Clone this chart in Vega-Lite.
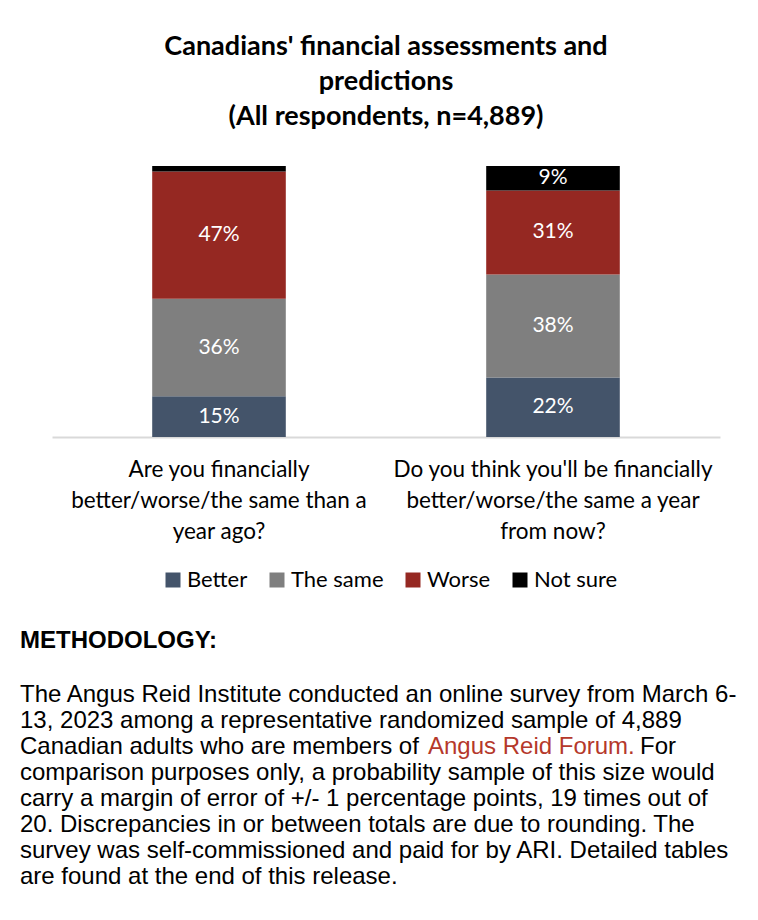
{
  "$schema": "https://vega.github.io/schema/vega-lite/v6.json",
  "background": "white",
  "padding": {"left": 20, "top": 33, "right": 6, "bottom": 5},
  "spacing": 86,
  "config": {"view": {"stroke": null}, "font": "Lato"},
  "datasets": {
    "bars": [
      {"question": "Are you financially better/worse/the same than a year ago?", "response": "Better", "rank": 1, "pct": 15},
      {"question": "Are you financially better/worse/the same than a year ago?", "response": "The same", "rank": 2, "pct": 36},
      {"question": "Are you financially better/worse/the same than a year ago?", "response": "Worse", "rank": 3, "pct": 47},
      {"question": "Are you financially better/worse/the same than a year ago?", "response": "Not sure", "rank": 4, "pct": 2},
      {"question": "Do you think you'll be financially better/worse/the same a year from now?", "response": "Better", "rank": 1, "pct": 22},
      {"question": "Do you think you'll be financially better/worse/the same a year from now?", "response": "The same", "rank": 2, "pct": 38},
      {"question": "Do you think you'll be financially better/worse/the same a year from now?", "response": "Worse", "rank": 3, "pct": 31},
      {"question": "Do you think you'll be financially better/worse/the same a year from now?", "response": "Not sure", "rank": 4, "pct": 9}
    ],
    "para": [
      {"line": 1, "part": "main", "text": "The Angus Reid Institute conducted an online survey from March 6-"},
      {"line": 2, "part": "main", "text": "13, 2023 among a representative randomized sample of 4,889"},
      {"line": 3, "part": "main", "text": "Canadian adults who are members of"},
      {"line": 3, "part": "link", "text": "Angus Reid Forum."},
      {"line": 3, "part": "tail", "text": "For"},
      {"line": 4, "part": "main", "text": "comparison purposes only, a probability sample of this size would"},
      {"line": 5, "part": "main", "text": "carry a margin of error of +/- 1 percentage points, 19 times out of"},
      {"line": 6, "part": "main", "text": "20. Discrepancies in or between totals are due to rounding. The"},
      {"line": 7, "part": "main", "text": "survey was self-commissioned and paid for by ARI. Detailed tables"},
      {"line": 8, "part": "main", "text": "are found at the end of this release."}
    ]
  },
  "vconcat": [
    {
      "width": 732,
      "height": 271,
      "title": {
        "text": ["Canadians' financial assessments and", "predictions", "(All respondents, n=4,889)"],
        "font": "Lato",
        "fontSize": 27,
        "fontWeight": "bold",
        "lineHeight": 35,
        "offset": 35,
        "anchor": "middle",
        "color": "black"
      },
      "data": {"name": "bars"},
      "encoding": {
        "x": {
          "field": "question",
          "type": "nominal",
          "sort": null,
          "scale": {"paddingInner": 0.6, "paddingOuter": 0.3, "range": [32, 700]},
          "axis": {
            "title": null,
            "domainColor": "#d9d9d9",
            "domainWidth": 2,
            "ticks": false,
            "labelAngle": 0,
            "labelFont": "Lato",
            "labelFontSize": 22.5,
            "labelColor": "black",
            "labelLineHeight": 31,
            "labelPadding": 21,
            "labelBaseline": "top",
            "labelLimit": 0,
            "labelExpr": "datum.value == \"Are you financially better/worse/the same than a year ago?\" ? [\"Are you financially\", \"better/worse/the same than a\", \"year ago?\"] : [\"Do you think you'll be financially\", \"better/worse/the same a year\", \"from now?\"]"
          }
        },
        "y": {
          "field": "pct",
          "type": "quantitative",
          "stack": "zero",
          "scale": {"domain": [0, 100]},
          "axis": null
        },
        "order": {"field": "rank", "type": "quantitative"}
      },
      "layer": [
        {
          "mark": {"type": "bar"},
          "encoding": {
            "color": {
              "field": "response",
              "type": "nominal",
              "sort": ["Better", "The same", "Worse", "Not sure"],
              "scale": {
                "domain": ["Better", "The same", "Worse", "Not sure"],
                "range": ["#44546A", "#7F7F7F", "#952822", "#000000"]
              },
              "legend": {
                "orient": "none",
                "legendX": 142,
                "legendY": 403,
                "direction": "horizontal",
                "title": null,
                "padding": 0,
                "symbolType": "square",
                "symbolSize": 225,
                "symbolStrokeWidth": 0,
                "symbolOpacity": 1,
                "labelFont": "Lato",
                "labelFontSize": 22,
                "labelColor": "black",
                "labelOffset": 3,
                "columnPadding": 18
              }
            }
          }
        },
        {
          "transform": [
            {"filter": "datum.pct >= 5"},
            {"calculate": "datum.pct + '%'", "as": "label"}
          ],
          "mark": {"type": "text", "color": "white", "font": "Lato", "fontSize": 21, "baseline": "middle"},
          "encoding": {
            "y": {"field": "pct", "type": "quantitative", "stack": "zero", "bandPosition": 0.5},
            "detail": {"field": "response", "type": "nominal"},
            "text": {"field": "label", "type": "nominal"}
          }
        }
      ]
    },
    {
      "width": 732,
      "height": 182,
      "title": {
        "text": "METHODOLOGY:",
        "font": "Liberation Sans",
        "fontSize": 24,
        "fontWeight": "bold",
        "anchor": "start",
        "offset": 30,
        "color": "black"
      },
      "data": {"name": "para"},
      "encoding": {
        "x": {"datum": 0, "type": "quantitative", "scale": {"domain": [0, 1]}, "axis": null},
        "y": {"field": "line", "type": "quantitative", "scale": {"domain": [1, 8], "reverse": true}, "axis": null},
        "text": {"field": "text", "type": "nominal"}
      },
      "layer": [
        {
          "transform": [{"filter": "datum.part == 'main'"}],
          "mark": {"type": "text", "align": "left", "baseline": "middle", "font": "Liberation Sans", "fontSize": 24, "color": "black"}
        },
        {
          "transform": [{"filter": "datum.part == 'link'"}],
          "mark": {"type": "text", "align": "left", "baseline": "middle", "font": "Liberation Sans", "fontSize": 24, "color": "#B5382B", "dx": 408}
        },
        {
          "transform": [{"filter": "datum.part == 'tail'"}],
          "mark": {"type": "text", "align": "left", "baseline": "middle", "font": "Liberation Sans", "fontSize": 24, "color": "black", "dx": 620}
        }
      ]
    }
  ]
}
